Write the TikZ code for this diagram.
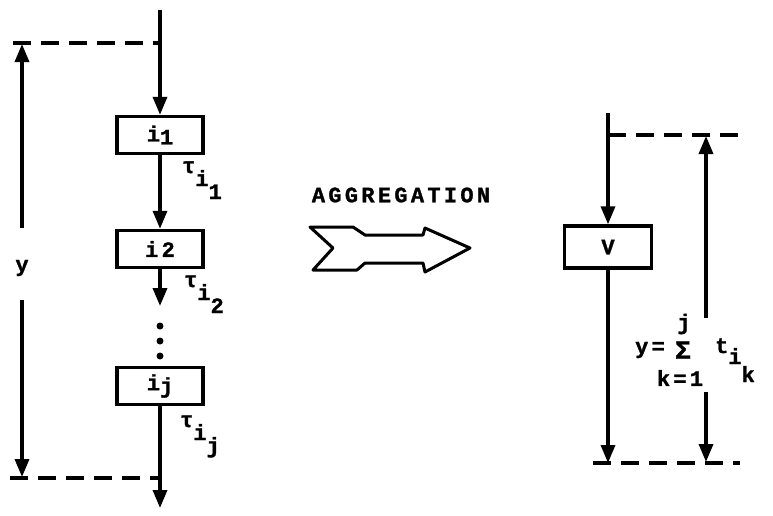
\documentclass[tikz,border=0pt]{standalone}
\usepackage{fontspec}
\setmainfont{Liberation Mono}[LetterSpace=15, BoldFeatures={FakeBold=1.2}]
\usetikzlibrary{arrows.meta}
\newcommand\stair[3]{#1\raisebox{-13pt}{#2\raisebox{-13pt}{#3}}}
\tikzset{
  txt/.style={font=\bfseries\fontsize{22}{24}\selectfont, inner sep=0pt},
  blk/.style={txt, draw, line width=3.4pt, minimum width=86pt, minimum height=37pt},
  flow/.style={line width=3.4pt, -{Triangle[length=18pt,width=14pt]}},
  guide/.style={line width=3.4pt, dash pattern=on 18pt off 10pt},
  dotnode/.style={circle, fill, inner sep=0pt, minimum size=7pt},
  bigarrow/.style={line width=3pt, line join=round},
}
\begin{document}
\begin{tikzpicture}[x=1pt,y=-1pt]
\useasboundingbox (0,0) rectangle (773,515);
% ---------- left chain ----------
\coordinate (ltop) at (160,10);
\node[blk] (b1) at (160,135) {i\raisebox{-3pt}{1}};
\node[blk] (b2) at (160,249) {i2};
\node[blk] (bj) at (160,386) {i\raisebox{-3pt}{j}};
\coordinate (l2end) at (160,306);
\coordinate (lbot) at (160,508);
\node[dotnode] (d1) at (160,326) {};
\node[dotnode] (d2) at (160,341) {};
\node[dotnode] (d3) at (160,356) {};
\draw[flow] (ltop) -- (b1.north);
\draw[flow] (b1.south) -- (b2.north);
\draw[flow] (b2.south) -- (l2end);
\draw[flow] (bj.south) -- (lbot);
% tau labels
\node[txt, anchor=base west] (t1) at (182,173) {\stair{τ}{i}{1}};
\node[txt, anchor=base west] (t2) at (184,287) {\stair{τ}{i}{2}};
\node[txt, anchor=base west] (tj) at (180,427) {\stair{τ}{i}{j}};
% left dimension
\coordinate (ldA) at (160,43);
\coordinate (ldAs) at (13,43);
\coordinate (ldB) at (160,478);
\coordinate (ldBs) at (10,478);
\draw[guide] (ldAs) -- (ldA);
\draw[guide] (ldBs) -- (ldB);
\node[txt] (ylab) at (22,268) {y};
\coordinate (yA0) at (22,228);
\coordinate (yA1) at (22,44);
\coordinate (yB0) at (22,300);
\coordinate (yB1) at (22,477);
\draw[flow] (yA0) -- (yA1);
\draw[flow] (yB0) -- (yB1);
% ---------- aggregation arrow ----------
\node[txt] (agg) at (401,195) {AGGREGATION};
\draw[bigarrow] (310,227) -- (353,227) -- (365,235) -- (423,235) -- (425,228)
  -- (470,248) -- (425,272) -- (423,263) -- (365,263) -- (357,270)
  -- (313,270) -- (333,248) -- cycle;
% ---------- right side ----------
\coordinate (rtop) at (608,113);
\node[blk, minimum width=87pt, minimum height=42pt] (bv) at (608,247) {V};
\coordinate (rbot) at (608,463);
\draw[flow] (rtop) -- (bv.north);
\draw[flow] (bv.south) -- (rbot);
\coordinate (rdA) at (608,135);
\coordinate (rdAe) at (743,135);
\coordinate (rdB) at (593,463);
\coordinate (rdBe) at (740,463);
\draw[guide] (rdA) -- (rdAe);
\draw[guide] (rdB) -- (rdBe);
\coordinate (sA0) at (706,318);
\coordinate (sA1) at (706,136);
\coordinate (sB0) at (706,392);
\coordinate (sB1) at (706,462);
\draw[flow] (sA0) -- (sA1);
\draw[flow] (sB0) -- (sB1);
% formula
\node[txt] (yeq) at (650,350) {y=};
\node[txt] (sig) at (683,350) {\scalebox{1.2}{Σ}};
\node[txt] (sup) at (684,324) {j};
\node[txt] (sub) at (680,378) {k=1};
\node[txt, anchor=base west] (tik) at (715,353) {t\raisebox{-11pt}{i\raisebox{-18pt}{k}}};
\end{tikzpicture}
\end{document}
